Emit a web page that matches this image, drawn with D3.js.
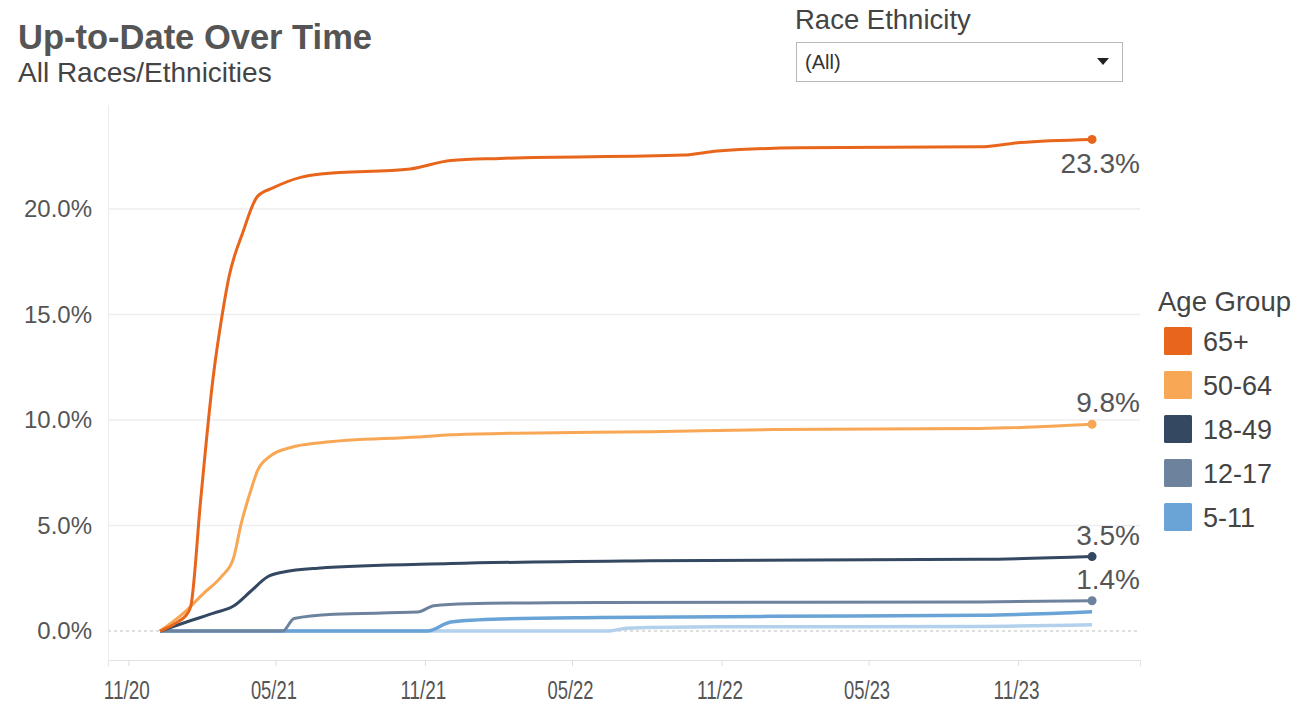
<!DOCTYPE html>
<html>
<head>
  <meta charset="utf-8">
  <title>Up-to-Date Over Time</title>
  <script src="https://d3js.org/d3.v7.min.js"></script>
  <style>
    body { margin: 0; background: #fff; }
    text { font-family: "Liberation Sans", Arial, sans-serif; }
  </style>
</head>
<body>
<div id="chart"></div>
<script>
// age groups, drawing order is bottom to top
var groups = ["0-4", "5-11", "12-17", "18-49", "50-64", "65+"];
var legendGroups = ["65+", "50-64", "18-49", "12-17", "5-11"];
var colors = {
  "65+": "#e8651c",
  "50-64": "#f8a755",
  "18-49": "#344862",
  "12-17": "#6d839d",
  "5-11": "#6aa3d5",
  "0-4": "#b3d1ec"
};
var labelled = ["65+", "50-64", "18-49", "12-17"];

// percent up to date
var s65 = [["2020-12-10",0],["2020-12-28",0.35],["2021-01-13",0.85],["2021-01-17",1.2],["2021-01-29",6.2],
  ["2021-02-13",11.9],["2021-02-25",15.1],["2021-03-05",16.8],["2021-03-22",18.9],["2021-04-09",20.6],
  ["2021-04-28",21.0],["2021-06-01",21.5],["2021-06-26",21.66],["2021-10-14",21.9],["2021-12-03",22.3],
  ["2022-02-02",22.4],["2022-09-15",22.56],["2022-10-27",22.75],["2023-02-06",22.9],["2023-09-15",22.95],
  ["2023-11-03",23.15],["2024-01-31",23.3]];
var s50 = [["2020-12-10",0],["2021-01-08",0.85],["2021-02-02",1.8],["2021-02-23",2.56],["2021-03-10",3.4],
  ["2021-03-20",5.1],["2021-04-01",6.7],["2021-04-09",7.6],["2021-04-25",8.3],["2021-05-20",8.7],
  ["2021-06-26",8.93],["2021-10-23",9.2],["2021-12-03",9.3],["2022-02-23",9.38],["2022-08-05",9.45],
  ["2023-01-04",9.55],["2023-09-15",9.6],["2024-01-31",9.8]];
var s18 = [["2020-12-10",0],["2021-01-17",0.5],["2021-02-14",0.85],["2021-03-11",1.2],["2021-04-01",1.9],
  ["2021-04-21",2.56],["2021-05-11",2.8],["2021-06-22",2.98],["2021-12-03",3.2],["2022-08-05",3.33],
  ["2023-09-15",3.4],["2024-01-31",3.53]];
var s12 = [["2020-12-10",0],["2021-05-10",0],["2021-05-24",0.6],["2021-07-12",0.8],["2021-10-23",0.9],
  ["2021-11-12",1.2],["2021-12-23",1.3],["2022-06-05",1.36],["2023-09-15",1.38],["2024-01-31",1.44]];
var s5 = [["2020-12-10",0],["2021-11-04",0],["2021-12-03",0.43],["2022-02-02",0.57],["2022-06-05",0.64],
  ["2023-01-04",0.7],["2023-09-15",0.75],["2024-01-31",0.92]];
var s0 = [["2020-12-10",0],["2022-06-13",0],["2022-07-08",0.14],["2022-10-27",0.2],["2023-09-15",0.22],
  ["2024-01-31",0.3]];

var seriesValues = {"65+": s65, "50-64": s50, "18-49": s18, "12-17": s12, "5-11": s5, "0-4": s0};

var yTicks = [0, 5, 10, 15, 20];
var xTicks = ["2020-11-01","2021-05-01","2021-11-01","2022-05-01","2022-11-01","2023-05-01","2023-11-01"];

var parse = d3.timeParse("%Y-%m-%d");

var svg = d3.select("#chart").append("svg")
  .attr("width", 1296)
  .attr("height", 707);

// titles
svg.append("text").attr("x", 18).attr("y", 49)
  .attr("font-size", 34.5).attr("font-weight", "bold").attr("fill", "#555")
  .text("Up-to-Date Over Time");
svg.append("text").attr("x", 18).attr("y", 82)
  .attr("font-size", 28).attr("fill", "#444")
  .text("All Races/Ethnicities");

// filter box
svg.append("text").attr("x", 795).attr("y", 29)
  .attr("font-size", 27.5).attr("fill", "#444")
  .text("Race Ethnicity");
svg.append("rect").attr("x", 796.5).attr("y", 42.5).attr("width", 326).attr("height", 39)
  .attr("fill", "#fff").attr("stroke", "#b8b8b8");
svg.append("text").attr("x", 805).attr("y", 69)
  .attr("font-size", 20).attr("fill", "#333").text("(All)");
svg.append("path").attr("d", "M1097,58 L1109,58 L1103,65 Z").attr("fill", "#222");

// scales
var x = d3.scaleTime()
  .domain([parse("2020-10-07"), parse("2024-03-30")])
  .range([108, 1140]);
var y = d3.scaleLinear()
  .domain([-1.37, 24.93])
  .range([660, 105]);

// grid
svg.append("g").selectAll("line")
  .data(yTicks.filter(function(d) { return d > 0; }))
  .enter().append("line")
  .attr("x1", 108).attr("x2", 1140)
  .attr("y1", function(d) { return y(d); })
  .attr("y2", function(d) { return y(d); })
  .attr("stroke", "#eeeeee").attr("stroke-width", 1.5);
svg.append("line")
  .attr("x1", 108).attr("x2", 1140)
  .attr("y1", y(0)).attr("y2", y(0))
  .attr("stroke", "#d4d4d4").attr("stroke-width", 1.5)
  .attr("stroke-dasharray", "3,3");
svg.append("line")
  .attr("x1", 108.5).attr("x2", 108.5).attr("y1", 105).attr("y2", 660)
  .attr("stroke", "#ececec");

// y axis
var yAxis = svg.append("g")
  .attr("transform", "translate(92,0)")
  .call(d3.axisLeft(y).tickValues(yTicks).tickSize(0).tickPadding(0)
    .tickFormat(function(d) { return d3.format(".1f")(d) + "%"; }));
yAxis.select(".domain").remove();
yAxis.selectAll("text").attr("font-size", 24).attr("fill", "#555")
  .style("font-family", "'Liberation Sans', Arial, sans-serif");

// x axis
var xAxis = svg.append("g")
  .attr("transform", "translate(0,660)")
  .call(d3.axisBottom(x).tickValues(xTicks.map(parse)).tickSize(6).tickPadding(15)
    .tickFormat(d3.timeFormat("%m/%y")));
xAxis.select(".domain").attr("stroke", "#e2e2e2");
xAxis.selectAll(".tick line").attr("stroke", "#dddddd");
xAxis.selectAll("text").attr("font-size", 26).attr("fill", "#555")
  .attr("textLength", 46).attr("lengthAdjust", "spacingAndGlyphs")
  .attr("dx", -2)
  .style("font-family", "'Liberation Sans', Arial, sans-serif");

// lines
var line = d3.line()
  .x(function(d) { return x(parse(d[0])); })
  .y(function(d) { return y(d[1]); })
  .curve(d3.curveMonotoneX);

svg.append("g").selectAll("path")
  .data(groups)
  .enter().append("path")
  .attr("d", function(g) { return line(seriesValues[g]); })
  .attr("fill", "none")
  .attr("stroke", function(g) { return colors[g]; })
  .attr("stroke-width", function(g) { return g === "0-4" || g === "5-11" ? 3.5 : 3; })
  .attr("stroke-linejoin", "round");

// end marks and labels
labelled.forEach(function(g) {
  var vals = seriesValues[g];
  var last = vals[vals.length - 1];
  var cx = x(parse(last[0])), cy = y(last[1]);
  svg.append("circle").attr("cx", cx).attr("cy", cy).attr("r", 4.5)
    .attr("fill", colors[g]);
  svg.append("text")
    .attr("x", 1140)
    .attr("y", g === "65+" ? cy + 34 : cy - 12)
    .attr("text-anchor", "end")
    .attr("font-size", 28).attr("fill", "#555")
    .text(d3.format(".1f")(last[1]) + "%");
});

// legend
svg.append("text").attr("x", 1158).attr("y", 311)
  .attr("font-size", 27.5).attr("fill", "#444").text("Age Group");
var leg = svg.append("g").selectAll("g")
  .data(legendGroups)
  .enter().append("g")
  .attr("transform", function(d, i) { return "translate(1164," + (327 + i * 44) + ")"; });
leg.append("rect").attr("width", 28).attr("height", 28).attr("rx", 1.5)
  .attr("fill", function(d) { return colors[d]; });
leg.append("text").attr("x", 39).attr("y", 24)
  .attr("font-size", 27).attr("fill", "#444")
  .text(function(d) { return d; });
</script>
</body>
</html>
